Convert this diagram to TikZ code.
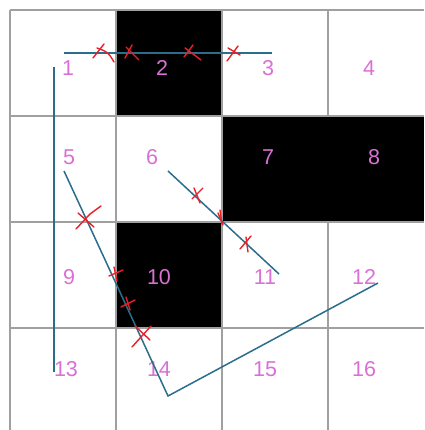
\documentclass[tikz,border=0pt]{standalone}
\usepackage{fontspec}
\setmainfont{Liberation Sans}
\definecolor{gridgray}{HTML}{A0A0A0}
\definecolor{lbl}{HTML}{DA70D6}
\definecolor{path}{HTML}{2A6E8C}
\definecolor{mark}{HTML}{E8202A}
\tikzset{
  gridline/.style={draw=gridgray, line width=1.2pt},
  blackcell/.style={fill=black},
  celllabel/.style={text=lbl, font=\fontsize{21.5}{21.5}\selectfont, inner sep=0pt, anchor=center},
  route/.style={draw=path, line width=1.5pt, line join=miter},
  xmark/.style={draw=mark, line width=1.4pt, line cap=round}
}
\begin{document}
\begin{tikzpicture}[x=1pt,y=-1pt]
\useasboundingbox (0,0) rectangle (424,430);
\fill[white] (0,0) rectangle (424,430);
% grid
\foreach \x in {10,116,222,328} \draw[gridline] (\x,10) -- (\x,430);
\foreach \y in {10,116,222,328} \draw[gridline] (10,\y) -- (424,\y);
% black cells
\fill[blackcell] (116.6,10.6) rectangle (221.4,115.4);
\fill[blackcell] (222.6,116.6) rectangle (424,221.4);
\fill[blackcell] (116.6,222.6) rectangle (221.4,327.4);
% labels
\node[celllabel] (c1) at (68,68) {1};
\node[celllabel] (c2) at (162,68) {2};
\node[celllabel] (c3) at (268,68) {3};
\node[celllabel] (c4) at (369,68) {4};
\node[celllabel] (c5) at (69,157.5) {5};
\node[celllabel] (c6) at (152,157.5) {6};
\node[celllabel] (c7) at (268,157.5) {7};
\node[celllabel] (c8) at (374,157.5) {8};
\node[celllabel] (c9) at (69,277) {9};
\node[celllabel] (c10) at (159,277) {10};
\node[celllabel] (c11) at (265,277) {11};
\node[celllabel] (c12) at (364,277) {12};
\node[celllabel] (c13) at (66,369) {13};
\node[celllabel] (c14) at (159,369) {14};
\node[celllabel] (c15) at (265,369) {15};
\node[celllabel] (c16) at (364,369) {16};
% route endpoints
\coordinate (h1) at (64,53);
\coordinate (h2) at (272,53);
\coordinate (v1) at (54,67);
\coordinate (v2) at (54,372);
\coordinate (a1) at (64,171);
\coordinate (a2) at (168,396);
\coordinate (a3) at (378,283);
\coordinate (b1) at (168,171);
\coordinate (b2) at (279,274);
\draw[route] (h1) -- (h2);
\draw[route] (v1) -- (v2);
\draw[route] (a1) -- (a2) -- (a3);
\draw[route] (b1) -- (b2);
% crosses (top row)
\draw[xmark] (93,58) -- (104,44);
\draw[xmark] (97,48) .. controls (108,52) .. (114,62);
\draw[xmark] (125,58) -- (132,45);
\draw[xmark] (126,47) -- (139,60);
\draw[xmark] (184,57) -- (193,45);
\draw[xmark] (185,48) -- (201,60);
\draw[xmark] (227,61) -- (238,46);
\draw[xmark] (228,48) -- (240,55);
% crosses (5-14 line)
\draw[xmark] (76,229) -- (90,214) .. controls (96,210) .. (101,206);
\draw[xmark] (78,213) -- (94,227);
\draw[xmark] (109,276) -- (123,270);
\draw[xmark] (114,267) -- (117,281);
\draw[xmark] (121,307) -- (135,300);
\draw[xmark] (126,297) -- (130,310);
\draw[xmark] (132,347) -- (151,326);
\draw[xmark] (135,326) -- (150,340);
% crosses (6-11 line)
\draw[xmark] (192,199) -- (203,188);
\draw[xmark] (194,188) -- (200,203);
\draw[xmark] (218,213) -- (223,225);
\draw[xmark] (220,210) -- (222,224);
\draw[xmark] (240,249) -- (251,236);
\draw[xmark] (246,237) -- (248,252);
\end{tikzpicture}
\end{document}
